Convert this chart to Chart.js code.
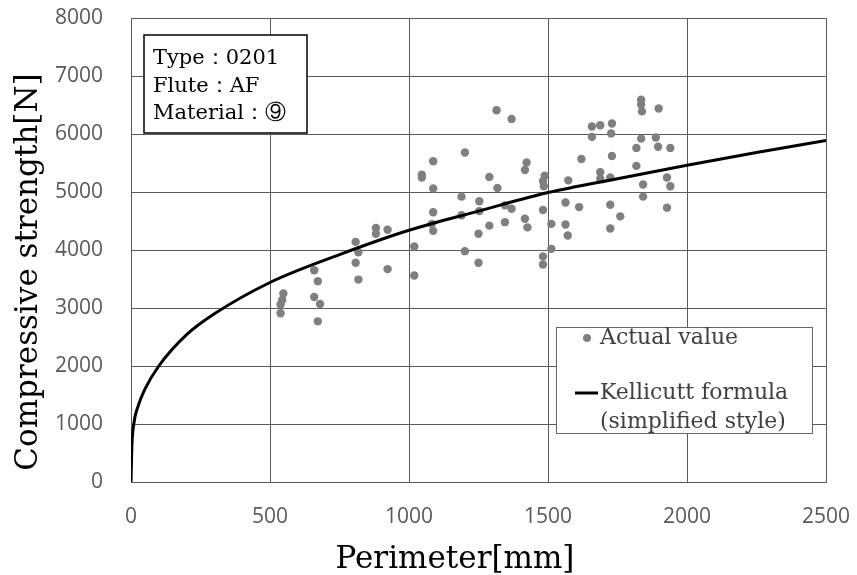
<!DOCTYPE html>
<html>
<head>
<meta charset="utf-8">
<script src="https://cdn.jsdelivr.net/npm/chart.js@4.4.0/dist/chart.umd.min.js"></script>
<style>
  body { margin: 0; background: #fff; }
  #wrap { width: 857px; height: 575px; }
</style>
</head>
<body>
<div id="wrap"><canvas id="chart" width="857" height="575"></canvas></div>
<script>
// measured points (perimeter mm / compressive strength N)
const perimeter = [548, 544, 538, 538, 659, 672, 659, 680, 672, 808, 818, 808, 818, 881, 881, 923, 923,
  1019, 1019, 1087, 1315, 1369, 1087, 1201, 1046, 1046, 1087, 1189, 1253, 1289, 1318, 1423, 1417,
  1488, 1482, 1485, 1573, 1620, 1087, 1189, 1253, 1345, 1369, 1082, 1289, 1250, 1345, 1417, 1426,
  1482, 1512, 1563, 1563, 1571, 1612, 1201, 1250, 1482, 1482, 1512, 1835, 1835, 1838, 1898, 1658,
  1688, 1730, 1658, 1727, 1835, 1888, 1896, 1940, 1818, 1730, 1818, 1688, 1688, 1724, 1928, 1940,
  1842, 1842, 1724, 1928, 1760, 1724];
const strength = [3250, 3140, 3060, 2910, 3650, 3460, 3190, 3070, 2770, 4140, 3960, 3780, 3490, 4380, 4280, 4350, 3670,
  4060, 3560, 4330, 6410, 6260, 5530, 5680, 5300, 5250, 5060, 4920, 4840, 5260, 5070, 5510, 5380,
  5280, 5190, 5100, 5200, 5570, 4650, 4600, 4670, 4770, 4710, 4450, 4420, 4280, 4480, 4540, 4390,
  4690, 4450, 4820, 4440, 4250, 4740, 3980, 3780, 3890, 3750, 4020, 6590, 6510, 6390, 6440, 6130,
  6150, 6180, 5950, 6010, 5920, 5940, 5780, 5760, 5760, 5620, 5450, 5340, 5230, 5250, 5250, 5100,
  5130, 4920, 4780, 4730, 4580, 4370];

// Kellicutt curve
const curveX = [0, 3, 10, 25, 50, 100, 200, 300, 500, 750, 1000, 1250, 1500, 1750, 2000, 2250, 2500];
const curveY = [0, 600, 1000, 1300, 1600, 2000, 2540, 2900, 3440, 3920, 4340, 4670, 4990, 5230, 5460, 5680, 5890];

const xTicks = [0, 500, 1000, 1500, 2000, 2500];
const yTicks = [0, 1000, 2000, 3000, 4000, 5000, 6000, 7000, 8000];

const infoLines = ['Type：0201', 'Flute：AF', 'Material：⑨'];
const legendLabels = ['Actual value', 'Kellicutt formula', '(simplified style)'];
const xTitle = 'Perimeter[mm]';
const yTitle = 'Compressive strength[N]';

const serif = '"DejaVu Serif", serif';
const gridColor = '#5a5a5a';

var pts = perimeter.map(function (p, i) { return { x: p, y: strength[i] }; });
var curve = curveX.map(function (p, i) { return { x: p, y: curveY[i] }; });

const overlay = {
  id: 'overlay',
  afterDraw(chart) {
    const ctx = chart.ctx;
    const a = chart.chartArea;

    // axis titles
    ctx.save();
    ctx.font = '31px ' + serif;
    ctx.fillStyle = '#000';
    ctx.textAlign = 'center';
    ctx.textBaseline = 'alphabetic';
    ctx.fillText(xTitle, 455, 568);
    ctx.translate(29, 272);
    ctx.rotate(-Math.PI / 2);
    ctx.textBaseline = 'middle';
    ctx.fillText(yTitle, 0, 0);
    ctx.restore();

    // info box top-left
    ctx.save();
    ctx.fillStyle = '#fff';
    ctx.fillRect(a.left + 13, a.top + 17, 163, 98);
    ctx.strokeStyle = '#000';
    ctx.lineWidth = 1.5;
    ctx.strokeRect(a.left + 13, a.top + 17, 163, 98);
    ctx.fillStyle = '#000';
    ctx.font = '21px ' + serif;
    ctx.textBaseline = 'alphabetic';
    infoLines.forEach(function (t, i) {
      ctx.fillText(t, a.left + 22, a.top + 46 + i * 27.7);
    });
    ctx.restore();

    // legend box
    ctx.save();
    const lx = 556, ly = 327, lw = 256, lh = 106;
    ctx.fillStyle = '#fff';
    ctx.fillRect(lx, ly, lw, lh);
    ctx.strokeStyle = '#666';
    ctx.lineWidth = 1;
    ctx.strokeRect(lx + 0.5, ly + 0.5, lw, lh);
    ctx.fillStyle = '#7f7f7f';
    ctx.beginPath();
    ctx.arc(lx + 31, ly + 11, 4, 0, Math.PI * 2);
    ctx.fill();
    ctx.strokeStyle = '#000';
    ctx.lineWidth = 3;
    ctx.beginPath();
    ctx.moveTo(lx + 19, ly + 66);
    ctx.lineTo(lx + 42, ly + 66);
    ctx.stroke();
    ctx.fillStyle = '#404040';
    ctx.font = '22px ' + serif;
    ctx.textBaseline = 'middle';
    ctx.fillText(legendLabels[0], lx + 44, ly + 11);
    ctx.fillText(legendLabels[1], lx + 44, ly + 66);
    ctx.fillText(legendLabels[2], lx + 44, ly + 95);
    ctx.restore();
  }
};

const chart = new Chart(document.getElementById('chart'), {
  type: 'scatter',
  data: {
    datasets: [{
      label: legendLabels[1],
      data: curve,
      showLine: true,
      cubicInterpolationMode: 'monotone',
      borderColor: '#000',
      borderWidth: 3,
      pointRadius: 0,
      order: 0
    }, {
      label: legendLabels[0],
      data: pts,
      backgroundColor: '#7f7f7f',
      borderWidth: 0,
      pointRadius: 4.2,
      order: 1
    }]
  },
  options: {
    responsive: false,
    animation: false,
    layout: { padding: { top: 18, right: 31, left: 0, bottom: 0 } },
    plugins: { legend: { display: false }, tooltip: { enabled: false } },
    scales: {
      x: {
        type: 'linear',
        min: xTicks[0],
        max: xTicks[xTicks.length - 1],
        afterBuildTicks: function (s) { s.ticks = xTicks.map(function (v) { return { value: v }; }); },
        afterFit: function (s) { s.height = 93; },
        ticks: { color: '#595959', font: { family: 'Open Sans', size: 21 }, padding: 0, callback: function (v) { return String(v); } },
        grid: { color: gridColor, drawTicks: true, tickLength: 22, tickColor: 'rgba(0,0,0,0)' },
        border: { color: gridColor }
      },
      y: {
        min: yTicks[0],
        max: yTicks[yTicks.length - 1],
        afterBuildTicks: function (s) { s.ticks = yTicks.map(function (v) { return { value: v }; }); },
        afterFit: function (s) { s.width = 131; },
        ticks: { color: '#595959', font: { family: 'Open Sans', size: 21 }, padding: 0, callback: function (v) { return String(v); } },
        grid: { color: gridColor, drawTicks: true, tickLength: 28, tickColor: 'rgba(0,0,0,0)' },
        border: { color: gridColor }
      }
    }
  },
  plugins: [overlay]
});
</script>
</body>
</html>
